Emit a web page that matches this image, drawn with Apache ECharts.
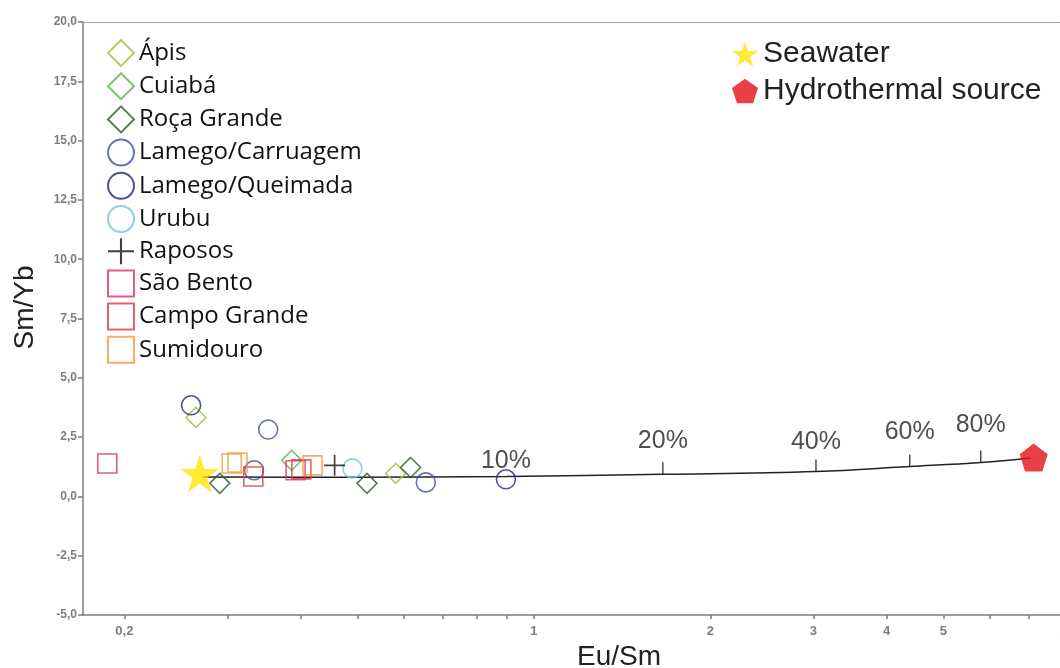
<!DOCTYPE html>
<html>
<head>
<meta charset="utf-8">
<script src="https://cdn.jsdelivr.net/npm/echarts@6/dist/echarts.min.js"></script>
<style>
html,body{margin:0;padding:0;background:#fff;}
#chart{width:1060px;height:668px;}
</style>
</head>
<body>
<div id="chart"></div>
<script>
// ---- data (x = Eu/Sm, y = Sm/Yb) ----
const apisX = [0.265, 0.581];             const apisY = [3.33, 0.97];
const cuiabaX = [0.386];                  const cuiabaY = [1.52];
const rocaX = [0.291, 0.519, 0.616];      const rocaY = [0.55, 0.55, 1.22];
const carruagemX = [0.333, 0.352, 0.654]; const carruagemY = [1.10, 2.82, 0.59];
const queimadaX = [0.260, 0.896];         const queimadaY = [3.84, 0.72];
const urubuX = [0.490];                   const urubuY = [1.18];
const raposoX = [0.457];                  const raposoY = [1.31];
const saoBentoX = [0.187, 0.392];         const saoBentoY = [1.39, 1.10];
const campoGrandeX = [0.332, 0.401];      const campoGrandeY = [0.84, 1.14];
const sumidouroX = [0.305, 0.312, 0.419]; const sumidouroY = [1.39, 1.43, 1.31];
const seawaterX = [0.269];                const seawaterY = [0.97];
const hydroX = [7.13];                    const hydroY = [1.64];

// mixing curve seawater -> hydrothermal source
const mixX = [0.272, 0.485, 0.896, 1.66, 3.03, 4.38, 5.79, 7.05];
const mixY = [0.82, 0.81, 0.84, 0.93, 1.05, 1.26, 1.43, 1.62];
const mixTickX = [0.896, 1.66, 3.03, 4.38, 5.79];
const mixTickY = [0.84, 0.93, 1.05, 1.26, 1.43];
const mixTickLabels = ['10%', '20%', '40%', '60%', '80%'];

// axis ticks / labels
const xLabelValues = [0.2, 1, 2, 3, 4, 5, 8];
const xTickValues = [0.2, 0.3, 0.4, 0.5, 0.6, 0.7, 0.8, 0.9, 1, 2, 3, 4, 5, 6, 7, 8];

// ---- styling ----
const zip = (xs, ys) => xs.map((x, i) => [x, ys[i]]);
const STAR = 'path://M0,-10L2.245,-3.09L9.511,-3.09L3.633,1.18L5.878,8.09L0,3.82L-5.878,8.09L-3.633,1.18L-9.511,-3.09L-2.245,-3.09Z';
const PENT = 'path://M0,-10L9.511,-3.09L5.878,8.09L-5.878,8.09L-9.511,-3.09Z';
const PLUS = 'path://M9.2,0h1.6v9.2h9.2v1.6h-9.2v9.2h-1.6v-9.2h-9.2v-1.6h9.2z';
const labelLift = [15, 33, 29, 34, 37];

function hollow(name, xs, ys, symbol, color, size) {
  return {
    name, type: 'scatter', data: zip(xs, ys), symbol, symbolSize: size,
    itemStyle: { color: 'rgba(255,255,255,0)', borderColor: color, borderWidth: 1.6 },
    emphasis: { disabled: true }, z: 3
  };
}

const series = [
  {
    name: 'mixing', type: 'line', data: zip(mixX, mixY), smooth: 0.4, showSymbol: false,
    lineStyle: { color: '#222', width: 1.5 }, z: 1, silent: true
  },
  {
    name: 'mixTicks', type: 'scatter', silent: true, z: 1,
    data: zip(mixTickX, mixTickY).map((p, i) => ({ value: p, symbolSize: i === 0 ? 0 : [1.5, 12] })),
    symbol: 'rect', symbolOffset: [0, -6],
    itemStyle: { color: '#222' }
  },
  {
    name: 'mixLabels', type: 'scatter', silent: true, z: 2,
    data: zip(mixTickX, mixTickY).map((p, i) => ({
      value: p,
      label: { offset: [0, -labelLift[i]] }
    })),
    symbolSize: 1, itemStyle: { color: 'rgba(0,0,0,0)' },
    label: {
      show: true, position: 'inside', color: '#222',
      fontFamily: 'Liberation Sans', fontSize: 25,
      formatter: p => mixTickLabels[p.dataIndex]
    }
  },
  hollow('Ápis', apisX, apisY, 'diamond', '#9cc63b', 20),
  hollow('Cuiabá', cuiabaX, cuiabaY, 'diamond', '#5db449', 20),
  hollow('Roça Grande', rocaX, rocaY, 'diamond', '#2e5a2c', 20),
  hollow('Lamego/Carruagem', carruagemX, carruagemY, 'circle', '#3e4e9e', 19),
  hollow('Lamego/Queimada', queimadaX, queimadaY, 'circle', '#24286b', 19),
  hollow('Urubu', urubuX, urubuY, 'circle', '#6fc6d9', 19),
  {
    name: 'Raposos', type: 'scatter', data: zip(raposoX, raposoY), symbol: PLUS, symbolSize: 21,
    itemStyle: { color: '#111' }, z: 3
  },
  hollow('São Bento', saoBentoX, saoBentoY, 'rect', '#d5336e', 19),
  hollow('Campo Grande', campoGrandeX, campoGrandeY, 'rect', '#e03a3c', 19),
  hollow('Sumidouro', sumidouroX, sumidouroY, 'rect', '#f2993a', 19),
  {
    name: 'Seawater', type: 'scatter', data: zip(seawaterX, seawaterY), symbol: STAR, symbolSize: 38,
    itemStyle: { color: '#ffe600' }, z: 4
  },
  {
    name: 'Hydrothermal source', type: 'scatter', data: zip(hydroX, hydroY), symbol: PENT, symbolSize: 28,
    itemStyle: { color: '#e3101a' }, z: 4
  }
];

const leftNames = ['Ápis','Cuiabá','Roça Grande','Lamego/Carruagem','Lamego/Queimada','Urubu','Raposos','São Bento','Campo Grande','Sumidouro'];

const gray = '#7d7d7d';
const option = {
  backgroundColor: '#ffffff',
  animation: false,
  grid: { left: 83, right: -3, top: 22, bottom: 53, containLabel: false, outerBoundsMode: 'none' },
  legend: [
    {
      data: leftNames, orient: 'vertical', left: 102, top: 34,
      itemWidth: 26, itemHeight: 26, itemGap: 5.2,
      textStyle: { fontFamily: 'Open Sans', fontSize: 24, color: '#111' },
      selectedMode: false
    },
    {
      data: ['Seawater', 'Hydrothermal source'], orient: 'vertical', left: 727, top: 34,
      itemWidth: 26, itemHeight: 26, itemGap: 7,
      textStyle: { fontFamily: 'Liberation Sans', fontSize: 30, color: '#222' },
      selectedMode: false
    }
  ],
  xAxis: [
    {
      type: 'log', logBase: 10, min: 0.17, max: 8,
      name: 'Eu/Sm', nameLocation: 'middle', nameGap: 27,
      nameTextStyle: { fontFamily: 'Liberation Sans', fontSize: 28, color: '#222', padding: [0, 0, 0, 92] },
      axisLine: { show: true, onZero: false, lineStyle: { color: gray, width: 1.5 } },
      axisTick: { show: true, length: 4, customValues: xTickValues, lineStyle: { color: gray, width: 1.5 } },
      axisLabel: {
        customValues: xLabelValues, margin: 10,
        fontFamily: 'Liberation Sans', fontWeight: 'bold', fontSize: 13, color: gray,
        formatter: v => String(+v.toFixed(2)).replace('.', ',')
      },
      minorTick: { show: false },
      splitLine: { show: false }
    },
    {
      type: 'log', logBase: 10, min: 0.17, max: 8, position: 'top',
      axisLine: { show: true, onZero: false, lineStyle: { color: '#9a9a9a', width: 1, type: [3, 1] } },
      axisTick: { show: false }, axisLabel: { show: false }, splitLine: { show: false }
    }
  ],
  yAxis: {
    type: 'value', min: -5, max: 20, interval: 2.5,
    name: 'Sm/Yb', nameLocation: 'middle', nameGap: 44, nameRotate: 90,
    nameTextStyle: { fontFamily: 'Liberation Sans', fontSize: 28, color: '#222', padding: [0, 0, 0, 22] },
    axisLine: { show: true, onZero: false, lineStyle: { color: gray, width: 1.5 } },
    axisTick: { show: true, length: 5, lineStyle: { color: gray, width: 1.5 } },
    axisLabel: {
      margin: 6, fontFamily: 'Liberation Sans', fontWeight: 'bold', fontSize: 12, color: gray,
      formatter: v => v.toFixed(1).replace('.', ',')
    },
    splitLine: { show: false }
  },
  series
};

const chart = echarts.init(document.getElementById('chart'), null, { renderer: 'canvas' });
chart.setOption(option);
</script>
</body>
</html>
